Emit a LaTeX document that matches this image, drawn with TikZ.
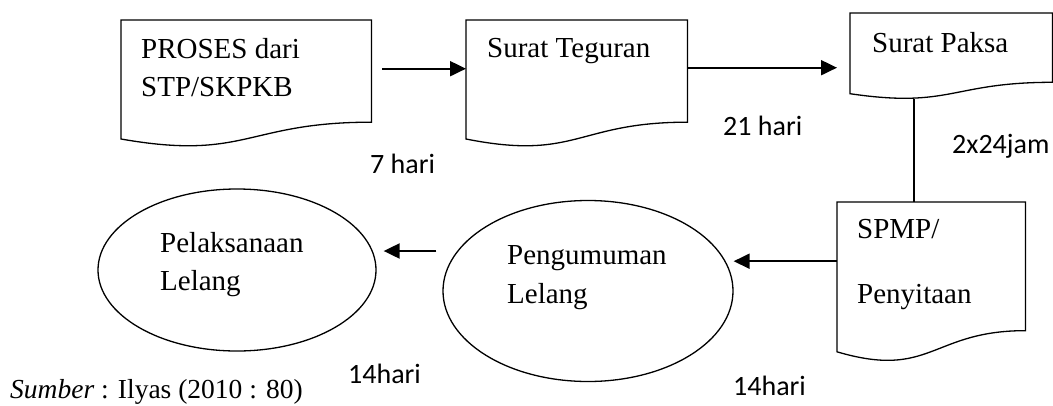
\documentclass[tikz,border=0pt]{standalone}
\usepackage{fontspec}
\setmainfont{Liberation Serif}
\newfontfamily\calibri{Carlito}
\usetikzlibrary{arrows.meta,calc,shapes.geometric,positioning}

\begin{document}
\begin{tikzpicture}[x=1pt,y=-1pt,
    dok/.style 2 args={anchor=north west,inner sep=0pt,minimum width=#1,minimum height=#2},
    elips/.style 2 args={ellipse,draw,line width=1.3pt,inner sep=0pt,minimum width=#1,minimum height=#2},
    teks/.style={anchor=north west,inner sep=0pt,align=left,font=\fontsize{29}{38}\selectfont},
    hari/.style={anchor=base west,inner sep=0pt,font=\calibri\fontsize{28}{34}\selectfont},
    garis/.style={line width=2pt},
    panah/.style={line width=2pt,-{Triangle[length=16pt,width=15pt]}}]
      \useasboundingbox (0,0) rectangle (1053,405);
      \node[dok={250pt}{127pt}] (proses) at (121,20) {};
      \node[dok={221pt}{127pt}] (teguran) at (466,20) {};
      \node[dok={202pt}{86pt}] (paksa) at (850,13) {};
      \node[dok={188pt}{160pt}] (spmp) at (837,202) {};
      \foreach \n in {proses,teguran,paksa,spmp}
        \draw[line width=1.3pt] (\n.north west) -- (\n.north east) -- ($(\n.north east)!.802!(\n.south east)$)
          .. controls ($(\n.north)!.802!(\n.south)$) and ($(\n.north)!1.107!(\n.south)$) .. ($(\n.north west)!.934!(\n.south west)$) -- cycle;
      \node[elips={278pt}{162pt}] (lelang) at (237,270) {};
      \node[elips={290pt}{181pt}] (umum) at (588,291) {};
      \node[teks] (t1) at (141,38) {PROSES dari\\STP/SKPKB};
      \node[teks] (t2) at (487,38) {Surat Teguran};
      \node[teks] (t3) at (872,32) {Surat Paksa};
      \node[teks] (t4) at (857,219) {SPMP/\\[27pt]Penyitaan};
      \node[teks] (t5) at (160,232) {Pelaksanaan\\Lelang};
      \node[teks] (t6) at (507,245) {Pengumuman\\[1pt]Lelang};
      \node[hari] (h1) at (370,173) {7 hari};
      \node[hari] (h2) at (723,135) {21 hari};
      \node[hari] (h3) at (952,153) {2x24jam};
      \node[hari] (h4) at (348,383) {14hari};
      \node[hari] (h5) at (733,395) {14hari};
      \node[anchor=base west,inner sep=0pt,font=\fontsize{27.5}{32}\selectfont] (sumber) at (10,398) {\textit{Sumber} : Ilyas (2010 : 80)};
      \draw[panah] ([xshift=11pt,yshift=15pt]proses.east) -- ([yshift=15pt]teguran.west);
      \draw[panah] ([yshift=16pt]teguran.east) -- ([xshift=-13pt,yshift=-11.5pt]paksa.west);
      \draw[garis] ([xshift=-37pt]paksa.south) -- ([xshift=-17pt]spmp.north);
      \coordinate (a3) at ([yshift=21pt]spmp.west);
      \draw[panah] (a3) -- (a3 -| umum.east);
      \draw[panah] ([xshift=-6pt,yshift=40pt]umum.west) -- ([xshift=7pt,yshift=19pt]lelang.east);
    \end{tikzpicture}
\end{document}
